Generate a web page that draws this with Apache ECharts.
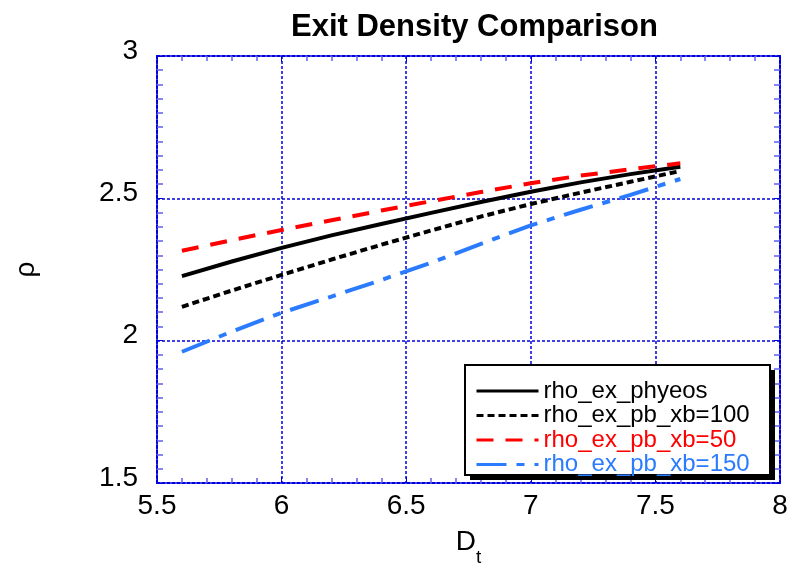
<!DOCTYPE html>
<html>
<head>
<meta charset="utf-8">
<script src="https://cdn.jsdelivr.net/npm/echarts@6/dist/echarts.min.js"></script>
<style>
  html, body { margin: 0; padding: 0; background: #fff; }
  #main { width: 789px; height: 563px; }
</style>
</head>
<body>
<div id="main"></div>
<script>
// values
const dt = [5.6, 5.8, 6.0, 6.2, 6.4, 6.6, 6.8, 7.0, 7.2, 7.4, 7.6]
const rhoPhyeos = [2.227, 2.278, 2.326, 2.370, 2.410, 2.449, 2.487, 2.523, 2.556, 2.585, 2.611]
const rhoXb100 = [2.119, 2.176, 2.231, 2.285, 2.337, 2.387, 2.436, 2.480, 2.520, 2.558, 2.596]
const rhoXb50 = [2.316, 2.353, 2.389, 2.423, 2.457, 2.490, 2.522, 2.553, 2.580, 2.602, 2.623]
const rhoXb150 = [1.961, 2.032, 2.098, 2.155, 2.213, 2.274, 2.340, 2.405, 2.460, 2.512, 2.568]

const names = ['rho_ex_phyeos', 'rho_ex_pb_xb=100', 'rho_ex_pb_xb=50', 'rho_ex_pb_xb=150']
const colors = ['#000000', '#000000', '#ff0000', '#2b7bff']

const pairs = ys => dt.map((x, i) => [x, ys[i]])

const frameBlue = '#0000dd'
const font = 'Liberation Sans, Arial, sans-serif'

function frameAxis(extra) {
  return Object.assign({
    type: 'value',
    axisLine: { show: true, lineStyle: { color: frameBlue, width: 2, type: [3, 2] } },
    axisTick: { show: true, inside: true, length: 6, lineStyle: { color: frameBlue, width: 1 } },
    axisLabel: { show: false },
    splitLine: { show: false }
  }, extra)
}

const minorX = { show: true, splitNumber: 5, length: 5, lineStyle: { color: '#6060ee', width: 1.5 } }
const minorY = { show: true, splitNumber: 10, length: 6, lineStyle: { color: '#6060ee', width: 1.5 } }

const myChart = echarts.init(document.getElementById('main'))
myChart.setOption({
  animation: false,
  textStyle: { fontFamily: font },
  title: {
    text: 'Exit Density Comparison',
    left: 286,
    top: 7,
    textStyle: { fontSize: 31, fontWeight: 'bold', color: '#000', fontFamily: font }
  },
  grid: { left: 157, right: 9, top: 56, bottom: 80, outerBoundsMode: 'none', containLabel: false },
  // legend box with its hard shadow
  graphic: [
    { type: 'rect', z: 5, shape: { x: 470, y: 370, width: 305, height: 110 }, style: { fill: '#000' } },
    { type: 'rect', z: 6, shape: { x: 465, y: 365, width: 305, height: 110 }, style: { fill: '#fff', stroke: '#000', lineWidth: 2 } }
  ],
  legend: {
    orient: 'vertical',
    left: 465,
    top: 365,
    z: 10,
    padding: [14, 10, 7, 10],
    itemWidth: 62,
    itemHeight: 14,
    itemGap: 0.5,
    itemTextGap: 6,
    itemStyle: { opacity: 0 },
    lineStyle: { width: 3 },
    data: names.map((n, i) => ({
      name: n,
      textStyle: { color: colors[i], fontSize: 24, lineHeight: 22, fontFamily: font }
    }))
  },
  xAxis: [
    frameAxis({
      position: 'bottom',
      min: 5.5, max: 8, interval: 0.5,
      minorTick: minorX,
      axisLabel: { show: true, fontSize: 28, color: '#000', margin: 9, fontFamily: font },
      splitLine: { show: true, lineStyle: { color: frameBlue, width: 1.5, type: [3, 2] } },
      name: '{a|D}{b|t}',
      nameLocation: 'middle',
      nameGap: 45,
      nameTextStyle: {
        rich: {
          a: { fontSize: 28, lineHeight: 28, verticalAlign: 'top', color: '#000', fontFamily: font },
          b: { fontSize: 19, lineHeight: 19, verticalAlign: 'top', padding: [20, 0, 0, 0], color: '#000', fontFamily: font }
        }
      }
    }),
    frameAxis({
      position: 'top',
      min: 5.5, max: 8, interval: 0.5,
      minorTick: minorX
    })
  ],
  yAxis: [
    frameAxis({
      position: 'left',
      min: 1.5, max: 3, interval: 0.5,
      minorTick: minorY,
      axisLabel: { show: true, fontSize: 28, color: '#000', margin: 19, verticalAlign: 'bottom', lineHeight: 10, fontFamily: font },
      splitLine: { show: true, lineStyle: { color: frameBlue, width: 1.5, type: [3, 2] } },
      name: 'ρ',
      nameLocation: 'middle',
      nameRotate: 90,
      nameGap: 117,
      nameTextStyle: { fontSize: 28, color: '#000', fontFamily: font }
    }),
    frameAxis({
      position: 'right',
      min: 1.5, max: 3, interval: 0.5,
      minorTick: minorY
    })
  ],
  series: [
    {
      name: names[0], type: 'line', symbol: 'none', data: pairs(rhoPhyeos),
      lineStyle: { color: colors[0], width: 4, type: 'solid' },
      itemStyle: { color: colors[0] }
    },
    {
      name: names[1], type: 'line', symbol: 'none', data: pairs(rhoXb100),
      lineStyle: { color: colors[1], width: 4, type: [7, 4] },
      itemStyle: { color: colors[1] }
    },
    {
      name: names[2], type: 'line', symbol: 'none', data: pairs(rhoXb50),
      lineStyle: { color: colors[2], width: 4, type: [17, 12] },
      itemStyle: { color: colors[2] }
    },
    {
      name: names[3], type: 'line', symbol: 'none', data: pairs(rhoXb150),
      lineStyle: { color: colors[3], width: 4, type: [30, 10, 8, 10] },
      itemStyle: { color: colors[3] }
    }
  ]
})
</script>
</body>
</html>
